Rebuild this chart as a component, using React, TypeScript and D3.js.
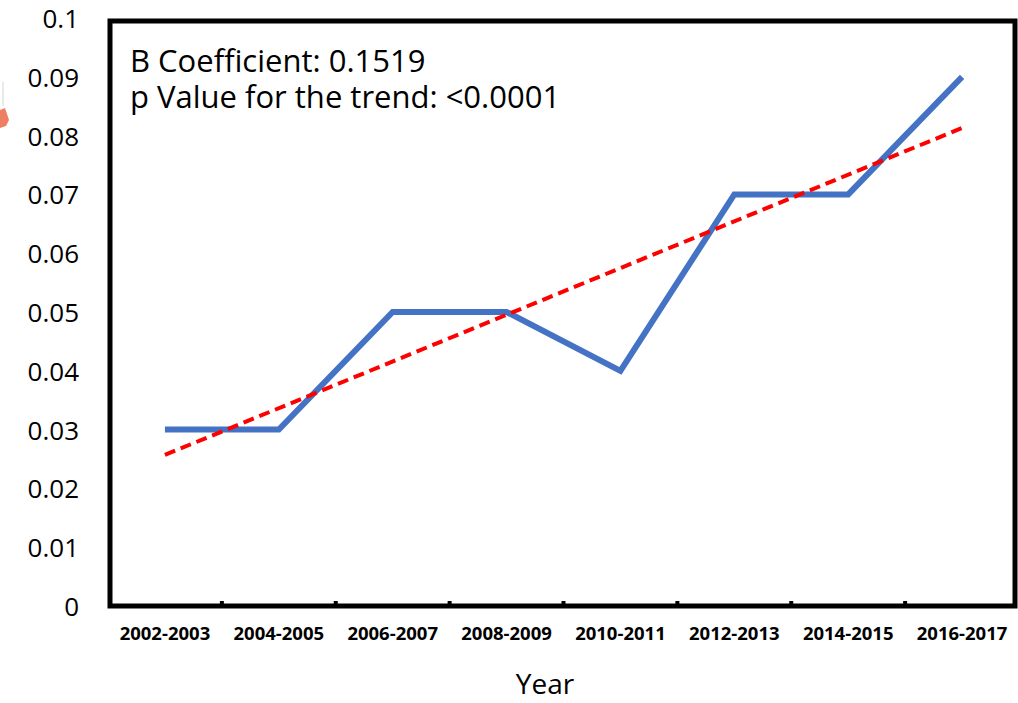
import React from "react";
import * as d3 from "d3";

const categories = [
  "2002-2003",
  "2004-2005",
  "2006-2007",
  "2008-2009",
  "2010-2011",
  "2012-2013",
  "2014-2015",
  "2016-2017",
];
const rates = [0.03, 0.03, 0.05, 0.05, 0.04, 0.07, 0.07, 0.09];
const trendStart = 0.0257;
const trendEnd = 0.0813;
const yTicks = [0, 0.01, 0.02, 0.03, 0.04, 0.05, 0.06, 0.07, 0.08, 0.09, 0.1];
const yTickLabels = ["0", "0.01", "0.02", "0.03", "0.04", "0.05", "0.06", "0.07", "0.08", "0.09", "0.1"];
const annotationLines = ["B Coefficient: 0.1519", "p Value for the trend: <0.0001"];
const xTitle = "Year";

const W = 1018;
const H = 703;

export default function App() {
  const x = d3.scaleBand<string>().domain(categories).range([108, 1019]);
  const y = d3.scaleLinear().domain([0, 0.1]).range([606, 18]);
  const cx = (c: string) => (x(c) as number) + x.bandwidth() / 2;

  const line = d3
    .line<number>()
    .x((_, i) => cx(categories[i]))
    .y((d) => y(d));

  const trend = d3
    .line<number>()
    .x((_, i) => cx(categories[i === 0 ? 0 : categories.length - 1]))
    .y((d) => y(d));

  const frameLeft = 110;
  const frameRight = 1015;
  const frameTop = 21;
  const frameBottom = y(0);

  const tickXs = categories.slice(1).map((c) => x(c) as number);

  return (
    <svg
      width={W}
      height={H}
      viewBox={`0 0 ${W} ${H}`}
      style={{ position: "absolute", left: 0, top: 0, background: "#fff" }}
      fontFamily="'Open Sans', sans-serif"
    >
      <rect x={0} y={0} width={W} height={H} fill="#fff" />
      {/* cropped artifact at left edge */}
      <path d="M0,110 L5,108 L7,114 L9,120 L6,126 L0,128 Z" fill="#EE7F62" />
      <line x1={3} y1={82} x2={3} y2={106} stroke="#e6ece6" strokeWidth={2} />

      {/* y tick labels */}
      {yTicks.map((t, i) => (
        <text
          key={t}
          x={79}
          y={y(t)}
          textAnchor="end"
          dominantBaseline="central"
          fontSize={26}
          fill="#000"
        >
          {yTickLabels[i]}
        </text>
      ))}

      {/* frame */}
      <rect
        x={frameLeft}
        y={frameTop}
        width={frameRight - frameLeft}
        height={frameBottom - frameTop}
        fill="none"
        stroke="#000"
        strokeWidth={5}
      />

      {/* x tick marks */}
      {tickXs.map((tx) => (
        <line key={tx} x1={tx} x2={tx} y1={frameBottom} y2={frameBottom - 5} stroke="#000" strokeWidth={4} />
      ))}

      {/* x tick labels */}
      {categories.map((c) => (
        <text
          key={c}
          x={cx(c)}
          y={640}
          textAnchor="middle"
          fontSize={18.5}
          fontWeight="bold"
          fill="#000"
        >
          {c}
        </text>
      ))}

      {/* data line */}
      <path
        d={line(rates) || ""}
        fill="none"
        stroke="#4472C4"
        strokeWidth={6}
        strokeLinejoin="miter"
      />

      {/* trend line */}
      <path
        d={trend([trendStart, trendEnd]) || ""}
        fill="none"
        stroke="#FF0000"
        strokeWidth={4}
        strokeDasharray="11,6"
      />

      {/* annotation */}
      <text x={130} y={72} fontSize={31} fill="#000">
        {annotationLines.map((t, i) => (
          <tspan key={t} x={130} dy={i === 0 ? 0 : 36}>
            {t}
          </tspan>
        ))}
      </text>

      {/* x title */}
      <text x={545} y={694} textAnchor="middle" fontSize={28} fill="#000">
        {xTitle}
      </text>
    </svg>
  );
}
